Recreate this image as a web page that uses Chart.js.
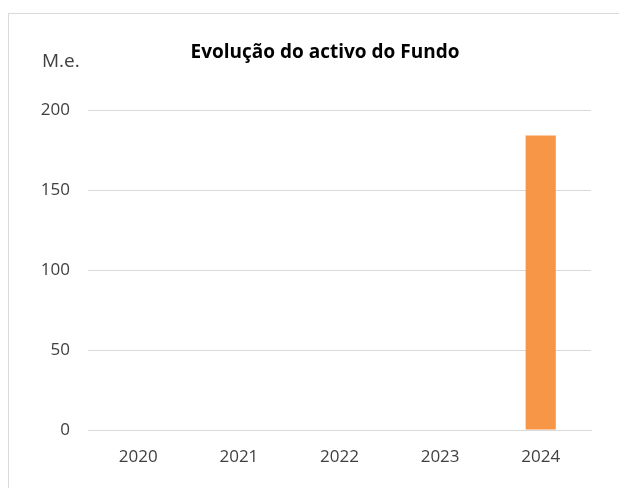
<!DOCTYPE html>
<html>
<head>
<meta charset="utf-8">
<script src="https://cdn.jsdelivr.net/npm/chart.js@4.4.1/dist/chart.umd.min.js"></script>
<style>
  html, body { margin: 0; padding: 0; background: #fff; overflow: hidden; }
  #frame { position: absolute; left: 8px; top: 13px; width: 700px; height: 600px; border: 1px solid #d9d9d9; }
  #wrap { position: absolute; left: 0; top: 0; width: 650px; height: 488px; }
  #title { position: absolute; left: 125px; width: 400px; top: 38px; text-align: center;
           font: bold 19px "Open Sans", sans-serif; color: #000; }
  #unit { position: absolute; left: 42px; top: 47px; font: 19px "Open Sans", sans-serif; color: #404040; }
</style>
</head>
<body>
<div id="frame"></div>
<div id="wrap"><canvas id="chart"></canvas></div>
<div id="title">Evolução do activo do Fundo</div>
<div id="unit">M.e.</div>
<script>
var years = ["2020", "2021", "2022", "2023", "2024"];
var activo = [0, 0, 0, 0, 184];
var yTicks = [0, 50, 100, 150, 200];

var ctx = document.getElementById("chart");
var myChart = new Chart(ctx, {
  type: "bar",
  data: {
    labels: years,
    datasets: [
      {
        data: activo,
        backgroundColor: "#f79646",
        borderWidth: 0,
        barPercentage: 0.3,
        categoryPercentage: 1,
      },
    ],
  },
  options: {
    responsive: true,
    maintainAspectRatio: false,
    animation: false,
    layout: { padding: { top: 110, right: 59, bottom: 0, left: 0 } },
    plugins: {
      legend: { display: false },
      tooltip: { enabled: false },
      title: { display: false },
    },
    scales: {
      x: {
        grid: { display: false, drawTicks: false },
        border: { display: true, color: "#d9d9d9" },
        ticks: { color: "#404040", padding: 17, font: { family: "Open Sans", size: 17 } },
        afterFit: function (scale) { scale.height = 58; },
      },
      y: {
        min: 0,
        max: 200,
        afterBuildTicks: function (scale) {
          scale.ticks = yTicks.map(function (v) { return { value: v }; });
        },
        grid: { color: "#d9d9d9", drawTicks: false },
        border: { display: false },
        ticks: { color: "#404040", padding: 18, font: { family: "Open Sans", size: 17 } },
        afterFit: function (scale) { scale.width = 88; },
      },
    },
  },
});
</script>
</body>
</html>
